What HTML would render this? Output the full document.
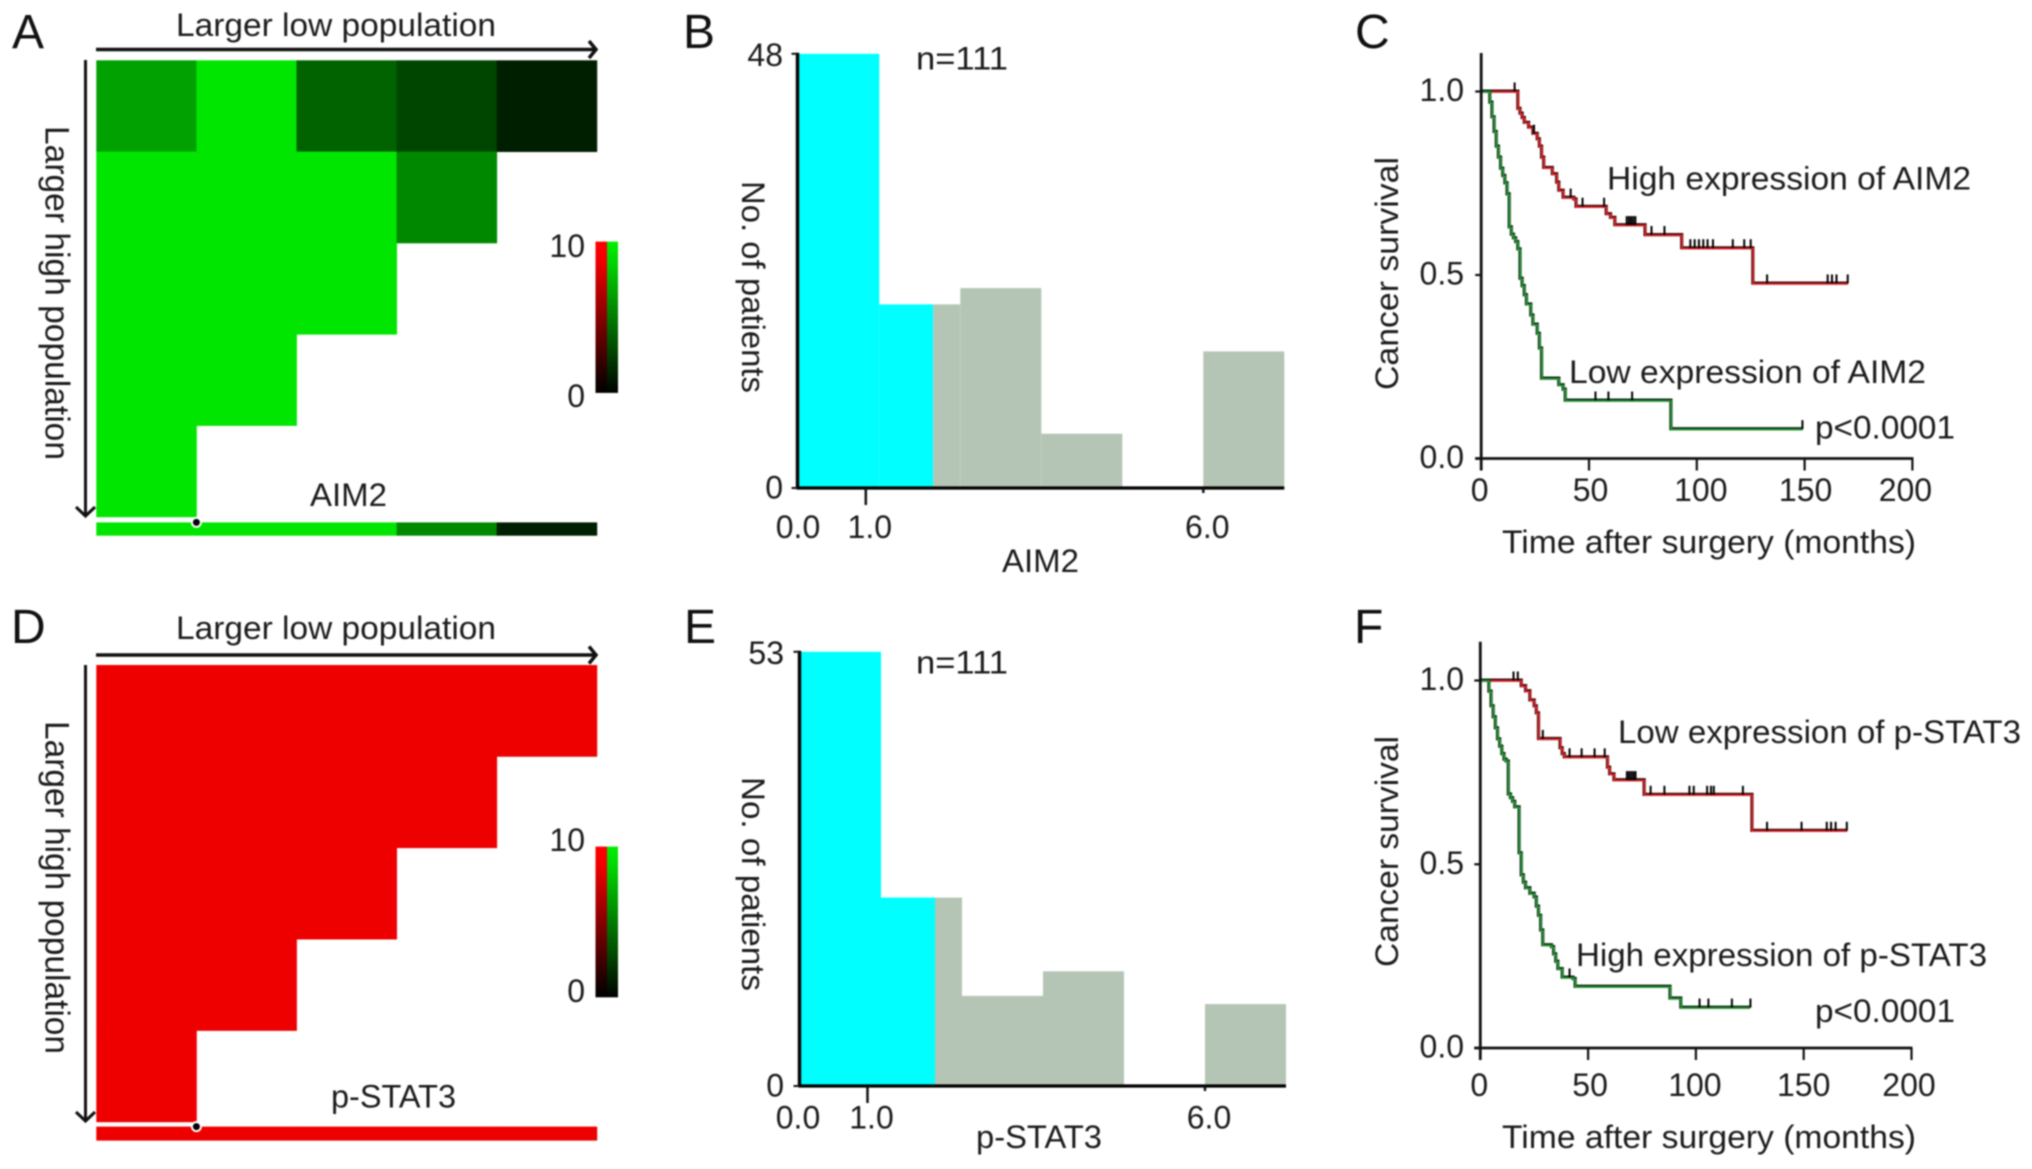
<!DOCTYPE html>
<html lang="en">
<head>
<meta charset="utf-8">
<title>AIM2 and p-STAT3 cut-off analysis and survival</title>
<style>
html,body{margin:0;padding:0;background:#fff;width:2032px;height:1169px;overflow:hidden}
svg{display:block;filter:blur(0.8px)}
text{font-family:"Liberation Sans",Arial,sans-serif;fill:#1c1c1c;font-size:32px}
.pl{font-size:48px;fill:#111}
</style>
</head>
<body>
<svg id="fig" width="2032" height="1169" viewBox="0 0 2032 1169" xmlns="http://www.w3.org/2000/svg">
<defs>
<linearGradient id="gr" x1="0" y1="0" x2="0" y2="1"><stop offset="0" stop-color="#ff0000"/><stop offset="0.12" stop-color="#f00000"/><stop offset="0.9" stop-color="#180000"/><stop offset="1" stop-color="#000"/></linearGradient>
<linearGradient id="gg" x1="0" y1="0" x2="0" y2="1"><stop offset="0" stop-color="#00ee00"/><stop offset="0.12" stop-color="#00d800"/><stop offset="0.9" stop-color="#001a00"/><stop offset="1" stop-color="#000"/></linearGradient>
</defs>

<text class="pl" x="12" y="48">A</text>
<text class="pl" x="683" y="48">B</text>
<text class="pl" x="1355" y="48">C</text>
<text class="pl" x="11" y="643">D</text>
<text class="pl" x="684" y="643">E</text>
<text class="pl" x="1354" y="643">F</text>

<text x="176" y="36" textLength="320" lengthAdjust="spacingAndGlyphs">Larger low population</text>
<path d="M96 49.500H595M589 41l7 8.500-7 8.500" fill="none" stroke="#111" stroke-width="3.500"/>
<text transform="translate(45.500 126) rotate(90)" x="0" y="0" font-size="34" textLength="334" lengthAdjust="spacingAndGlyphs" style="font-size:34px">Larger high population</text>
<path d="M85.500 60V515M76 507l9.500 9 9.500-9" fill="none" stroke="#111" stroke-width="3"/>
<text x="310" y="506" textLength="77" lengthAdjust="spacingAndGlyphs">AIM2</text>
<rect x="595.500" y="241.600" width="11.500" height="151.300" fill="url(#gr)"/>
<rect x="607" y="241.600" width="11" height="151.300" fill="url(#gg)"/>
<text x="585" y="257" text-anchor="end">10</text>
<text x="585" y="407" text-anchor="end">0</text>

<text x="176" y="639" textLength="320" lengthAdjust="spacingAndGlyphs">Larger low population</text>
<path d="M96 655H595M589 646.500l7 8.500-7 8.500" fill="none" stroke="#111" stroke-width="3.500"/>
<text transform="translate(45.500 721) rotate(90)" x="0" y="0" textLength="333" lengthAdjust="spacingAndGlyphs" style="font-size:34px">Larger high population</text>
<path d="M85.500 665V1120M76 1112l9.500 9 9.500-9" fill="none" stroke="#111" stroke-width="3"/>
<text x="331" y="1107.500" textLength="125" lengthAdjust="spacingAndGlyphs">p-STAT3</text>
<rect x="595.500" y="846.600" width="11.500" height="150.700" fill="url(#gr)"/>
<rect x="607" y="846.600" width="11" height="150.700" fill="url(#gg)"/>
<text x="585" y="851" text-anchor="end">10</text>
<text x="585" y="1002" text-anchor="end">0</text>

<text x="916" y="69.500" textLength="92" lengthAdjust="spacingAndGlyphs">n=111</text>
<text transform="translate(742 181) rotate(90)" textLength="212" lengthAdjust="spacingAndGlyphs">No. of patients</text>
<text x="1002" y="572" textLength="77" lengthAdjust="spacingAndGlyphs">AIM2</text>

<text x="916" y="673.500" textLength="92" lengthAdjust="spacingAndGlyphs">n=111</text>
<text transform="translate(742 777) rotate(90)" textLength="214" lengthAdjust="spacingAndGlyphs">No. of patients</text>
<text x="976" y="1148" textLength="126" lengthAdjust="spacingAndGlyphs">p-STAT3</text>

<text transform="translate(1398 390) rotate(-90)" textLength="233" lengthAdjust="spacingAndGlyphs">Cancer survival</text>
<text x="1502" y="553" textLength="414" lengthAdjust="spacingAndGlyphs">Time after surgery (months)</text>
<text x="1607" y="189.500" textLength="364" lengthAdjust="spacingAndGlyphs">High expression of AIM2</text>
<text x="1569" y="383" textLength="357" lengthAdjust="spacingAndGlyphs">Low expression of AIM2</text>
<text x="1815" y="438.500" textLength="140" lengthAdjust="spacingAndGlyphs">p&lt;0.0001</text>

<text transform="translate(1398 967) rotate(-90)" textLength="231" lengthAdjust="spacingAndGlyphs">Cancer survival</text>
<text x="1502" y="1148" textLength="414" lengthAdjust="spacingAndGlyphs">Time after surgery (months)</text>
<text x="1618" y="743" textLength="403" lengthAdjust="spacingAndGlyphs">Low expression of p-STAT3</text>
<text x="1576" y="966" textLength="411" lengthAdjust="spacingAndGlyphs">High expression of p-STAT3</text>
<text x="1815" y="1022" textLength="140" lengthAdjust="spacingAndGlyphs">p&lt;0.0001</text>
</svg>

<script>
/* ---------- heatmap data (value 0-10, null = empty) ---------- */
var heatA = [
  [7, 10, 4.3, 3, 1.3],
  [10, 10, 10, 5.9, null],
  [10, 10, 10, null, null],
  [10, 10, null, null, null],
  [10, null, null, null, null]
];
var heatABar = [10, 10, 10, 5.9, 1.3];
var heatD = [
  [10, 10, 10, 10, 10],
  [10, 10, 10, 10, null],
  [10, 10, 10, null, null],
  [10, 10, null, null, null],
  [10, null, null, null, null]
];
var heatDBar = [10, 10, 10, 10, 10];

/* ---------- histogram data ---------- */
var histBCounts = [48, 20.3, 22.1, 6, 0, 15.1];
var histBYTicks = [0, 48];
var histECounts = [53, 23, 11, 14, 0, 10];
var histEYTicks = [0, 53];
var histBinWidth = 1.2;
var histCutoff = 2.0;
var histXTicks = [1, 6];
var histXLabels = [0, 1, 6];

/* ---------- survival data: [time in months], [survival after that time] ---------- */
var kmXTicks = [0, 50, 100, 150, 200];
var kmYTicks = [0, 0.5, 1];

var cHighTimes = [0, 17, 18, 19, 20, 22, 24, 26, 27, 28, 29, 33, 35, 36, 38, 43, 44, 58, 60, 62, 76, 93, 126, 170];
var cHighSurv = [1, .953, .94, .928, .915, .902, .885, .87, .85, .82, .792, .775, .752, .73, .711, .706, .686, .666, .656, .636, .609, .573, .477, .477];
var cHighCens = [15.5, 24.5, 41.5, 47, 57, 67.5, 68.5, 69.5, 70.5, 71.5, 79, 85, 97, 99, 101, 103, 105, 107.5, 116.7, 122, 125, 132.6, 160.7, 162.7, 164.8, 170];

var cLowTimes = [0, 4, 5, 6, 7, 8, 9, 10, 11, 12, 13, 14, 15, 16, 17, 18, 19, 20, 21, 23, 24, 26, 27, 28, 36, 38, 39, 88, 149];
var cLowSurv = [1, .97, .93, .89, .85, .82, .79, .77, .75, .72, .63, .61, .60, .59, .57, .49, .47, .445, .42, .39, .365, .34, .30, .218, .20, .188, .158, .08, .08];
var cLowCens = [53, 59, 70, 149];

var fLowTimes = [0, 19, 21, 23, 25, 26, 27, 37, 38, 39, 59, 60, 62, 76, 126, 170];
var fLowSurv = [1, .985, .971, .946, .93, .911, .841, .816, .80, .791, .763, .745, .729, .689, .591, .591];
var fLowCens = [15.4, 17.4, 29, 41.4, 47, 53, 57.7, 68, 69, 70, 71, 72, 79, 85.4, 97, 99, 105.2, 107, 108.3, 121.8, 133, 149, 160.7, 162.7, 164.8, 170];

var fHighTimes = [0, 4, 5, 6, 7, 8, 9, 10, 11, 12, 13, 14, 15, 16, 18, 19, 20, 21, 23, 25, 26, 27, 28, 29, 33, 34, 35, 36, 38, 43, 44, 88, 93, 125];
var fHighSurv = [1, .97, .93, .90, .87, .84, .82, .80, .785, .78, .69, .68, .67, .655, .53, .47, .45, .435, .42, .41, .385, .36, .32, .28, .275, .255, .235, .215, .192, .188, .167, .135, .11, .11];
var fHighCens = [41.4, 101.7, 105.8, 116.7, 125.3];

/* ---------- drawing ---------- */
var svg = document.getElementById('fig');
var NS = 'http://www.w3.org/2000/svg';
function mk(tag, attrs) {
  var e = document.createElementNS(NS, tag);
  for (var k in attrs) e.setAttribute(k, attrs[k]);
  svg.appendChild(e);
  return e;
}
function heatColor(hue, v) {
  var c = Math.round(v * (hue === 'red' ? 23.8 : 23));
  return hue === 'red' ? 'rgb(' + c + ',0,0)' : 'rgb(0,' + c + ',0)';
}
function drawHeat(matrix, barVals, hue, top, bottom, barTop, barBottom, prefix) {
  var left = 96.3, cw = 100.1, ch = (bottom - top) / matrix.length;
  function cx(c) { return left + c * cw; }
  function cy(r) { return top + r * ch; }
  matrix.forEach(function (row, r) {
    row.forEach(function (v, c) {
      if (v === null) return;
      var cell = mk('rect', {x: cx(c), y: cy(r), width: cw + 0.4, height: ch + 0.4, fill: heatColor(hue, v)});
      
      
    });
  });
  barVals.forEach(function (v, c) {
    var seg = mk('rect', {x: cx(c), y: barTop, width: cw + 0.4, height: barBottom - barTop, fill: heatColor(hue, v)});
    
    
  });
  var dot = mk('circle', {cx: cx(1), cy: barTop, r: 4.5, fill: '#000', stroke: '#fff', 'stroke-width': 2});
  
  
}
drawHeat(heatA, heatABar, 'green', 60.3, 516.8, 522.4, 535.7, 'heatmap-a');
drawHeat(heatD, heatDBar, 'red', 665, 1121.8, 1126.6, 1140.6, 'heatmap-d');

function drawHist(counts, yTicks, L, prefix) {
  var yMax = yTicks[yTicks.length - 1];
  function x(v) { return L.x0 + v * L.k; }
  function y(n) { return L.y0 - n / yMax * (L.y0 - L.yTop); }
  counts.forEach(function (n, i) {
    if (!n) return;
    var a = i * histBinWidth, b = a + histBinWidth;
    var left = i === 0 ? L.axisX : x(a);
    if (a < histCutoff) {
      var cy = mk('rect', {x: left, y: y(n), width: x(Math.min(b, histCutoff)) - left, height: y(0) - y(n), fill: '#00ffff'});
      
      
    }
    if (b > histCutoff) {
      var gl = x(Math.max(a, histCutoff));
      var gy = mk('rect', {x: gl, y: y(n), width: x(b) - gl, height: y(0) - y(n), fill: '#b5c5b5'});
      
      
    }
  });
  var ya = mk('line', {x1: L.axisX, x2: L.axisX, y1: y(yMax) - 1, y2: y(0) + 1, stroke: '#000', 'stroke-width': 3.4});
  
  
  var xa = mk('line', {x1: L.axisX - 1, x2: x(6 * histBinWidth), y1: y(0), y2: y(0), stroke: '#000', 'stroke-width': 3.2});
  
  
  yTicks.forEach(function (t) {
    var tk = mk('line', {x1: L.axisX - 6, x2: L.axisX, y1: y(t), y2: y(t), stroke: '#111', 'stroke-width': 2});
    
    
    var lb = mk('text', {x: L.yLabelX, y: y(t) + (t ? 12 : 10.5), 'text-anchor': 'end'});
    lb.textContent = String(t);
    
    
  });
  histXTicks.forEach(function (t) {
    var tk = mk('line', {x1: x(t), x2: x(t), y1: y(0), y2: y(0) + (t === 1 ? 17 : 5), stroke: '#111', 'stroke-width': 2.5});
    
    
  });
  histXLabels.forEach(function (t) {
    var lb = mk('text', {x: t ? x(t) + 4 : 798, y: L.xLabelY, 'text-anchor': 'middle'});
    lb.textContent = t.toFixed(1);
    
    
  });
}
drawHist(histBCounts, histBYTicks, {x0: 798.3, k: 67.5, axisX: 797.5, y0: 488, yTop: 53.8, yLabelX: 783, xLabelY: 538}, 'histogram-b');
drawHist(histECounts, histEYTicks, {x0: 800, k: 67.5, axisX: 799.5, y0: 1086, yTop: 651.8, yLabelX: 784, xLabelY: 1128.5}, 'histogram-e');

function drawKM(curves, L, prefix) {
  function x(t) { return L.x0 + t * L.kx; }
  function y(s) { return L.y0 - s * L.ky; }
  function stepPath(times, surv) {
    var d = 'M' + x(times[0]) + ' ' + y(surv[0]);
    for (var i = 1; i < times.length; i++) {
      d += 'H' + x(times[i]) + 'V' + y(surv[i]);
    }
    return d;
  }
  function stepAt(times, surv, t) {
    var s = surv[0];
    for (var i = 0; i < times.length; i++) { if (times[i] <= t) s = surv[i]; }
    return s;
  }
  curves.forEach(function (c) {
    var d = stepPath(c.times, c.surv);
    var under = mk('path', {d: d, fill: 'none', stroke: c.dark, 'stroke-width': 3.2, transform: 'translate(0,-0.4)'});
    
    
    var over = mk('path', {d: d, fill: 'none', stroke: c.color, 'stroke-width': 1.5, transform: 'translate(0.3,0.5)'});
    
    
    c.cens.forEach(function (t) {
      var s = stepAt(c.times, c.surv, t);
      var m = mk('line', {x1: x(t), x2: x(t), y1: y(s) - 9, y2: y(s), stroke: '#000', 'stroke-width': 2});
      
      
    });
  });
  var ya = mk('line', {x1: x(0), x2: x(0), y1: L.yTop, y2: y(0) + 12, stroke: '#111', 'stroke-width': 2.8});
  
  
  var xa = mk('line', {x1: x(0) - 6, x2: x(200) + 1, y1: y(0), y2: y(0), stroke: '#111', 'stroke-width': 2.8});
  
  
  kmYTicks.forEach(function (t) {
    var tk = mk('line', {x1: x(0) - 6, x2: x(0), y1: y(t), y2: y(t), stroke: '#111', 'stroke-width': 2.2});
    
    
    var lb = mk('text', {x: L.yLabelX, y: y(t) + 9.5, 'text-anchor': 'end'});
    lb.textContent = t.toFixed(1);
    
    
  });
  kmXTicks.forEach(function (t, i) {
    var tk = mk('line', {x1: x(t), x2: x(t), y1: y(0), y2: y(0) + 12, stroke: '#111', 'stroke-width': 2.2});
    
    
    var lb = mk('text', {x: x(t) + L.labelNudge[i], y: L.xLabelY, 'text-anchor': 'middle'});
    lb.textContent = String(t);
    
    
  });
}
drawKM([
  {name: 'high-aim2', times: cHighTimes, surv: cHighSurv, cens: cHighCens, dark: '#4a0c0c', color: '#e8262c'},
  {name: 'low-aim2', times: cLowTimes, surv: cLowSurv, cens: cLowCens, dark: '#0c3312', color: '#2c9e3c'}
], {x0: 1481.2, kx: 2.156, y0: 458.5, ky: 367, yTop: 53, yLabelX: 1464, xLabelY: 501, labelNudge: [-1.5, 1.5, 4, 1, -7]}, 'survival-c');
drawKM([
  {name: 'low-pstat3', times: fLowTimes, surv: fLowSurv, cens: fLowCens, dark: '#4a0c0c', color: '#e8262c'},
  {name: 'high-pstat3', times: fHighTimes, surv: fHighSurv, cens: fHighCens, dark: '#0c3312', color: '#2c9e3c'}
], {x0: 1480.3, kx: 2.156, y0: 1048, ky: 367.5, yTop: 641.7, yLabelX: 1464, xLabelY: 1096, labelNudge: [-1, 2, -1, 0, -2.5]}, 'survival-f');
</script>
</body>
</html>
